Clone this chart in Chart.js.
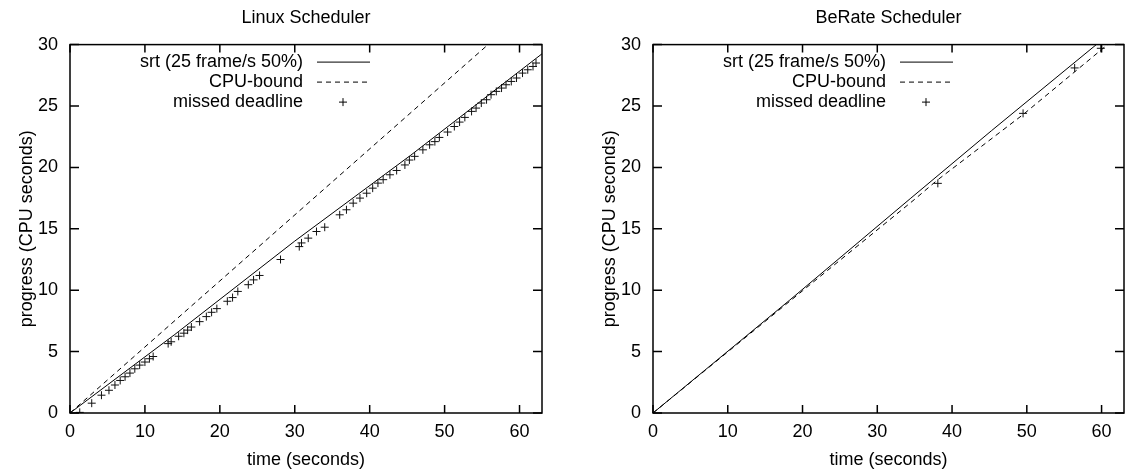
<!DOCTYPE html>
<html>
<head>
<meta charset="utf-8">
<script src="https://cdn.jsdelivr.net/npm/chart.js@4"></script>
<style>
    body { margin: 0; background: #fff; }
    #linux { position: absolute; left: 0; top: 0; }
    #berate { position: absolute; left: 583px; top: 0; }
</style>
</head>
<body>
<canvas id="linux" width="582" height="474"></canvas>
<canvas id="berate" width="546" height="474"></canvas>
<script>
// axis ticks
var timeTicks = [0, 10, 20, 30, 40, 50, 60];
var progressTicks = [0, 5, 10, 15, 20, 25, 30];
var seriesLabels = ['srt (25 frame/s 50%)', 'CPU-bound', 'missed deadline'];

// Linux scheduler: [time, progress]
var linuxSrt = [[0, 0], [14, 6.4], [30, 14.0], [45.5, 21.0], [63, 29.25]];
var linuxCpu = [[0, 0], [55.8, 30], [63, 33.9]];
var linuxMissed = [
    [1.3, 0.05], [2.9, 0.8], [4.2, 1.45], [5.2, 1.85], [6.0, 2.28], [6.7, 2.65],
    [7.35, 2.95], [8.0, 3.25], [8.65, 3.6], [9.3, 3.9], [10.0, 4.15], [10.6, 4.42],
    [11.1, 4.6], [13.1, 5.65], [13.5, 5.8], [14.5, 6.25], [15.2, 6.5], [15.7, 6.75],
    [16.2, 7.0], [17.3, 7.44], [18.2, 7.85], [18.9, 8.2], [19.6, 8.5], [21.0, 9.1],
    [21.7, 9.4], [22.4, 9.9], [23.8, 10.45], [24.5, 10.84], [25.3, 11.2], [28.1, 12.5],
    [30.6, 13.55], [30.9, 13.85], [31.8, 14.24], [32.9, 14.78], [34.0, 15.13], [36.0, 16.14],
    [36.9, 16.55], [37.8, 17.09], [38.7, 17.5], [39.6, 17.9], [40.4, 18.31], [41.1, 18.72],
    [41.8, 19.0], [42.7, 19.4], [43.6, 19.75], [44.7, 20.2], [45.3, 20.6], [46.0, 20.9],
    [47.1, 21.43], [48.0, 21.84], [48.7, 22.1], [49.3, 22.44], [50.4, 22.88], [51.3, 23.33],
    [52.0, 23.69], [52.7, 24.07], [53.6, 24.56], [54.2, 24.83], [54.9, 25.24], [55.6, 25.51],
    [56.2, 25.92], [56.9, 26.19], [57.6, 26.46], [58.2, 26.73], [58.9, 27.0], [59.6, 27.28],
    [60.4, 27.68], [61.1, 27.95], [61.8, 28.22], [62.2, 28.5]
];

// BeRate scheduler
var berateSrt = [[0, 0], [18.3, 9.2], [34.4, 17.45], [45.3, 23.0], [59.3, 30], [63, 31.9]];
var berateCpu = [[0, 0], [20, 9.95], [35, 17.4], [38, 18.95], [49.5, 24.3], [60.8, 30], [63, 31.1]];
var berateMissed = [[38.1, 18.7], [49.5, 24.4], [56.4, 28.1], [59.9, 29.7]];

var fontFamily = '"Liberation Sans", Arial, sans-serif';
Chart.defaults.font.family = fontFamily;
Chart.defaults.font.size = 18;
Chart.defaults.color = '#000';

function toPoints(arr) {
    return arr.map(function(p) { return {x: p[0], y: p[1]}; });
}

// gnuplot style frame, inward ticks and key
var framePlugin = {
    id: 'frame',
    afterDraw: function(chart) {
        var ctx = chart.ctx;
        var a = chart.chartArea;
        var xs = chart.scales.x, ys = chart.scales.y;
        ctx.save();
        ctx.strokeStyle = '#000';
        ctx.lineWidth = 1.5;
        ctx.strokeRect(a.left, a.top, a.right - a.left, a.bottom - a.top);
        ctx.beginPath();
        timeTicks.forEach(function(v) {
            var px = xs.getPixelForValue(v);
            ctx.moveTo(px, a.bottom); ctx.lineTo(px, a.bottom - 8);
            ctx.moveTo(px, a.top); ctx.lineTo(px, a.top + 8);
        });
        progressTicks.forEach(function(v) {
            var py = ys.getPixelForValue(v);
            ctx.moveTo(a.left, py); ctx.lineTo(a.left + 9, py);
            ctx.moveTo(a.right, py); ctx.lineTo(a.right - 9, py);
        });
        ctx.stroke();

        // key
        ctx.font = '18px ' + fontFamily;
        ctx.fillStyle = '#000';
        ctx.textAlign = 'right';
        ctx.textBaseline = 'middle';
        ctx.lineWidth = 1;
        chart.data.datasets.forEach(function(ds, i) {
            var y = a.top + 17.5 + i * 20;
            ctx.fillText(ds.label, a.left + 233, y);
            ctx.beginPath();
            if (ds.showLine) {
                ctx.setLineDash(ds.borderDash || []);
                ctx.moveTo(a.left + 247, y);
                ctx.lineTo(a.left + 300, y);
            } else {
                var cx = a.left + 273;
                ctx.setLineDash([]);
                ctx.moveTo(cx - 4, y); ctx.lineTo(cx + 4, y);
                ctx.moveTo(cx, y - 4); ctx.lineTo(cx, y + 4);
            }
            ctx.stroke();
        });
        ctx.restore();
    }
};

function makeChart(id, title, srt, cpu, missed, padRight) {
    new Chart(document.getElementById(id), {
        type: 'scatter',
        data: {
            datasets: [{
                label: seriesLabels[0],
                data: toPoints(srt),
                showLine: true,
                borderColor: '#000',
                borderWidth: 1,
                pointRadius: 0
            }, {
                label: seriesLabels[1],
                data: toPoints(cpu),
                showLine: true,
                borderColor: '#000',
                borderWidth: 1,
                borderDash: [5, 4],
                pointRadius: 0
            }, {
                label: seriesLabels[2],
                data: toPoints(missed),
                showLine: false,
                pointStyle: 'cross',
                pointRadius: 4,
                borderColor: '#111',
                borderWidth: 1
            }]
        },
        options: {
            responsive: false,
            animation: false,
            layout: { padding: { left: 0, right: padRight, top: 0, bottom: 0 } },
            plugins: {
                legend: { display: false },
                tooltip: { enabled: false },
                title: {
                    display: true,
                    text: title,
                    fullSize: false,
                    font: { size: 18, weight: 'normal' },
                    padding: { top: 7, bottom: 16 }
                }
            },
            scales: {
                x: {
                    type: 'linear',
                    min: 0,
                    max: 63,
                    afterBuildTicks: function(scale) {
                        scale.ticks = timeTicks.map(function(v) { return {value: v}; });
                    },
                    afterFit: function(scale) { scale.height = 61; },
                    grid: { display: false, drawTicks: false },
                    border: { display: false },
                    ticks: { padding: 8, maxRotation: 0 },
                    title: {
                        display: true,
                        text: 'time (seconds)',
                        font: { size: 18 },
                        padding: { top: 0, bottom: 3 }
                    }
                },
                y: {
                    type: 'linear',
                    min: 0,
                    max: 30,
                    afterBuildTicks: function(scale) {
                        scale.ticks = progressTicks.map(function(v) { return {value: v}; });
                    },
                    afterFit: function(scale) { scale.width = 70; },
                    grid: { display: false, drawTicks: false },
                    border: { display: false },
                    ticks: { padding: 12 },
                    title: {
                        display: true,
                        text: 'progress (CPU seconds)',
                        font: { size: 18 },
                        padding: { top: 16, bottom: 0 }
                    }
                }
            }
        },
        plugins: [framePlugin]
    });
}

makeChart('linux', 'Linux Scheduler', linuxSrt, linuxCpu, linuxMissed, 40);
makeChart('berate', 'BeRate Scheduler', berateSrt, berateCpu, berateMissed, 5);
</script>
</body>
</html>
